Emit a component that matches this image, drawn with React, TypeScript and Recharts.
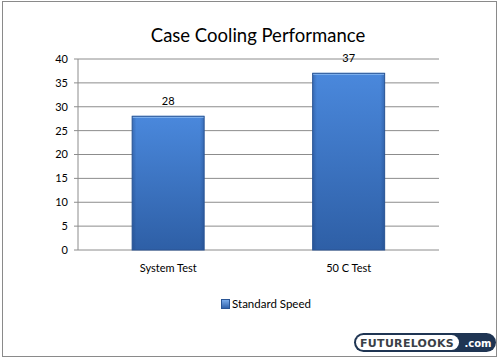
import { BarChart, Bar, XAxis, YAxis, CartesianGrid, LabelList, Legend } from "recharts";

const categories = ["System Test", "50 C Test"];
const standardSpeed = [28, 37];
const yTicks = [0, 5, 10, 15, 20, 25, 30, 35, 40];
const edgeTicks = [0, 1, 2];

const data = categories.map((name, i) => ({ name, value: standardSpeed[i] }));

const FONT = "Lato, 'Open Sans', sans-serif";

const BevelBar = (props: any) => {
  const { x, y, width, height } = props;
  if (!height || height <= 0) return null;
  return (
    <g>
      <rect x={x} y={y} width={width} height={height} fill="url(#barFill)" />
      <rect x={x} y={y} width={width} height={height} fill="url(#barSide)" />
      <line x1={x} y1={y + 0.5} x2={x + width} y2={y + 0.5} stroke="#8dbbf2" strokeWidth={2} />
      <rect x={x} y={y} width={width} height={height} fill="none" stroke="#2a5595" strokeWidth={1} />
    </g>
  );
};

const LegendContent = () => (
  <div style={{ display: "flex", justifyContent: "center", alignItems: "center", fontFamily: FONT, fontSize: 11.5, color: "#000" }}>
    <svg width={9} height={10} style={{ marginRight: 2 }}>
      <defs>
        <linearGradient id="legFill" x1="0" y1="0" x2="0" y2="1">
          <stop offset="0%" stopColor="#7fb0ee" />
          <stop offset="100%" stopColor="#2c5ea8" />
        </linearGradient>
      </defs>
      <rect x={0.5} y={0.5} width={8} height={9} fill="url(#legFill)" stroke="#2a5595" />
    </svg>
    <span>Standard Speed</span>
  </div>
);

const Watermark = () => (
  <svg width={144} height={21} style={{ position: "absolute", left: 353, top: 332 }}>
    <rect x={1} y={1} width={142} height={19} rx={9.5} fill="#1f3553" />
    <rect x={3} y={3} width={103} height={15} rx={7.5} fill="#fff" />
    <text x={54} y={15} textAnchor="middle" fontFamily="'DejaVu Sans', sans-serif" fontWeight={700}
      fontSize={11} fill="#3a3f47" letterSpacing={0.3}>FUTURELOOKS</text>
    <text x={125} y={14.5} textAnchor="middle" fontFamily="'DejaVu Sans', sans-serif" fontWeight={700}
      fontSize={10} fill="#fff">.com</text>
  </svg>
);

export default function App() {
  return (
    <div style={{ position: "absolute", left: 0, top: 0, width: 500, height: 358, background: "#fff", fontFamily: FONT }}>
      <div style={{ position: "absolute", left: 2, top: 1, width: 493, height: 354, border: "1px solid #8a8a8a" }} />
      <div style={{ position: "absolute", left: 0, top: 24, width: 516, textAlign: "center", fontSize: 18.5, color: "#000" }}>
        Case Cooling Performance
      </div>
      <BarChart width={500} height={358} data={data} margin={{ top: 59, right: 61, left: 0, bottom: 78 }} barCategoryGap="30%">
        <defs>
          <linearGradient id="barFill" x1="0" y1="0" x2="0" y2="1">
            <stop offset="0%" stopColor="#4a88dc" />
            <stop offset="100%" stopColor="#2e5fa6" />
          </linearGradient>
          <linearGradient id="barSide" x1="0" y1="0" x2="1" y2="0">
            <stop offset="0%" stopColor="#1c3f78" stopOpacity={0.35} />
            <stop offset="6%" stopColor="#1c3f78" stopOpacity={0} />
            <stop offset="94%" stopColor="#1c3f78" stopOpacity={0} />
            <stop offset="100%" stopColor="#1c3f78" stopOpacity={0.35} />
          </linearGradient>
        </defs>
        <CartesianGrid vertical={false} stroke="#8c8c8c" strokeWidth={1} />
        <XAxis xAxisId="edges" type="number" domain={[0, 2]} ticks={edgeTicks} height={0}
          tick={false} tickSize={5} tickLine={{ stroke: "#8c8c8c" }} axisLine={{ stroke: "#8c8c8c" }} />
        <XAxis dataKey="name" height={30} tickLine={false} axisLine={false} tickSize={0} tickMargin={14}
          tick={{ fontSize: 11, fill: "#000", fontFamily: FONT }} interval={0} />
        <YAxis domain={[0, 40]} ticks={yTicks} width={78} tickSize={4} tickMargin={6}
          tickLine={{ stroke: "#8c8c8c" }} axisLine={{ stroke: "#8c8c8c" }}
          tick={{ fontSize: 11, fill: "#000", fontFamily: FONT }} />
        <Legend layout="horizontal" verticalAlign="middle" align="center" content={<LegendContent />}
          wrapperStyle={{ top: 297, left: 16, width: 500 }} />
        <Bar dataKey="value" name="Standard Speed" shape={<BevelBar />} isAnimationActive={false}>
          <LabelList dataKey="value" position="top" offset={11} style={{ fontSize: 11, fill: "#000", fontFamily: FONT }} />
        </Bar>
      </BarChart>
      <Watermark />
    </div>
  );
}
